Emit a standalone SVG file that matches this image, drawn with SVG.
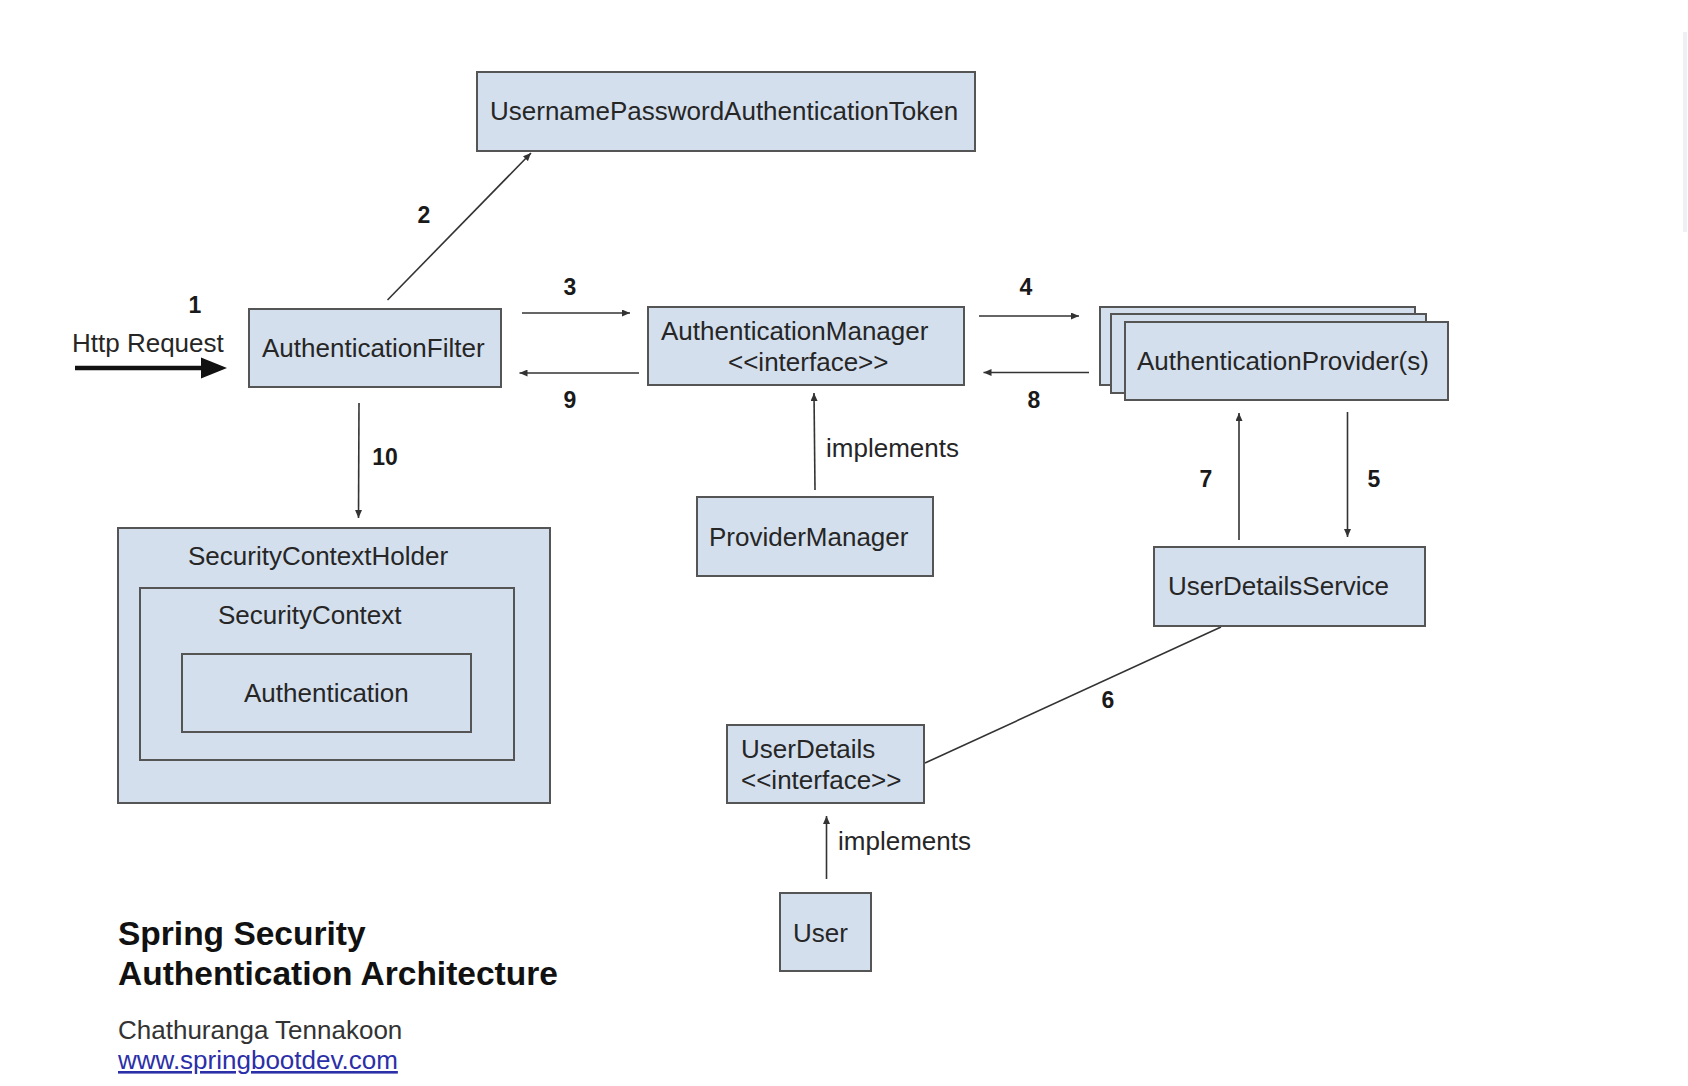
<svg xmlns="http://www.w3.org/2000/svg" width="1688" height="1086" viewBox="0 0 1688 1086">
  <defs>
    <style>
      .box { fill: #d4dfed; stroke: #555; stroke-width: 2; }
      .t { font-family: "Liberation Sans", Arial, sans-serif; font-size: 26px; fill: #262626; }
      .num { font-family: "Liberation Sans", Arial, sans-serif; font-size: 23px; font-weight: bold; fill: #1a1a1a; text-anchor: middle; }
      .ln { stroke: #333; stroke-width: 1.6; fill: none; }
      .arr { marker-end: url(#ah); }
    </style>
    <marker id="ah" markerUnits="userSpaceOnUse" markerWidth="9" markerHeight="7" refX="8" refY="3.5" orient="auto">
      <path d="M0,0 L8,3.5 L0,7 z" fill="#333"/>
    </marker>
  </defs>
  <rect width="1688" height="1086" fill="#ffffff"/>
  <rect x="1683" y="32" width="4" height="200" fill="#eef0f3"/>

  <g id="connectors">
    <line x1="75" y1="368" x2="203" y2="368" stroke="#111" stroke-width="4.5"/>
    <polygon points="201,357.5 227,368 201,378.5" fill="#111"/>
    <line class="ln arr" x1="387.5" y1="300" x2="531" y2="153"/>
    <line class="ln arr" x1="522" y1="313" x2="630" y2="313"/>
    <line class="ln arr" x1="639" y1="373" x2="519.5" y2="373"/>
    <line class="ln arr" x1="979" y1="316" x2="1079" y2="316"/>
    <line class="ln arr" x1="1089" y1="372.5" x2="983.5" y2="372.5"/>
    <line class="ln arr" x1="815" y1="490" x2="814" y2="393"/>
    <line class="ln arr" x1="359" y1="403" x2="358.5" y2="518"/>
    <line class="ln arr" x1="1239" y1="540" x2="1239" y2="413"/>
    <line class="ln arr" x1="1347.5" y1="412" x2="1347.5" y2="537"/>
    <line class="ln" x1="1221" y1="627" x2="925" y2="763"/>
    <line class="ln arr" x1="826.5" y1="879" x2="826.5" y2="816"/>
  </g>

  <g id="labels">
    <text class="t" x="72" y="352">Http Request</text>
    <text class="num" x="195" y="313">1</text>
    <text class="num" x="424" y="223">2</text>
    <text class="num" x="570" y="295">3</text>
    <text class="num" x="570" y="408">9</text>
    <text class="num" x="1026" y="295">4</text>
    <text class="num" x="1034" y="408">8</text>
    <text class="num" x="385" y="465">10</text>
    <text class="num" x="1206" y="487">7</text>
    <text class="num" x="1374" y="487">5</text>
    <text class="num" x="1108" y="708">6</text>
    <text class="t" x="826" y="457">implements</text>
    <text class="t" x="838" y="850">implements</text>
  </g>

  <g id="UsernamePasswordAuthenticationToken">
    <rect class="box" x="477" y="72" width="498" height="79"/>
    <text class="t" x="490" y="120">UsernamePasswordAuthenticationToken</text>
  </g>
  <g id="AuthenticationFilter">
    <rect class="box" x="249" y="309" width="252" height="78"/>
    <text class="t" x="262" y="357">AuthenticationFilter</text>
  </g>
  <g id="AuthenticationManager">
    <rect class="box" x="648" y="307" width="316" height="78"/>
    <text class="t" x="661" y="340">AuthenticationManager</text>
    <text class="t" x="728" y="371">&lt;&lt;interface&gt;&gt;</text>
  </g>
  <g id="AuthenticationProviders">
    <rect class="box" x="1100" y="307" width="315" height="78"/>
    <rect class="box" x="1111" y="314" width="315" height="79"/>
    <rect class="box" x="1125" y="322" width="323" height="78"/>
    <text class="t" x="1137" y="370">AuthenticationProvider(s)</text>
  </g>
  <g id="ProviderManager">
    <rect class="box" x="697" y="497" width="236" height="79"/>
    <text class="t" x="709" y="546">ProviderManager</text>
  </g>
  <g id="UserDetailsService">
    <rect class="box" x="1154" y="547" width="271" height="79"/>
    <text class="t" x="1168" y="595">UserDetailsService</text>
  </g>
  <g id="UserDetails">
    <rect class="box" x="727" y="725" width="197" height="78"/>
    <text class="t" x="741" y="758">UserDetails</text>
    <text class="t" x="741" y="789">&lt;&lt;interface&gt;&gt;</text>
  </g>
  <g id="User">
    <rect class="box" x="780" y="893" width="91" height="78"/>
    <text class="t" x="793" y="942">User</text>
  </g>
  <g id="SecurityContextHolder">
    <rect class="box" x="118" y="528" width="432" height="275"/>
    <text class="t" x="188" y="565">SecurityContextHolder</text>
    <g id="SecurityContext">
      <rect class="box" x="140" y="588" width="374" height="172"/>
      <text class="t" x="218" y="624">SecurityContext</text>
      <g id="Authentication">
        <rect class="box" x="182" y="654" width="289" height="78"/>
        <text class="t" x="244" y="702">Authentication</text>
      </g>
    </g>
  </g>

  <g id="title">
    <text x="118" y="945" font-family="Liberation Sans, Arial, sans-serif" font-size="33.5" font-weight="bold" fill="#111">Spring Security</text>
    <text x="118" y="985" font-family="Liberation Sans, Arial, sans-serif" font-size="33.5" font-weight="bold" fill="#111">Authentication Architecture</text>
    <text x="118" y="1039" font-family="Liberation Sans, Arial, sans-serif" font-size="26" fill="#333">Chathuranga Tennakoon</text>
    <text x="118" y="1069" font-family="Liberation Sans, Arial, sans-serif" font-size="26" fill="#2b2fa8" text-decoration="underline">www.springbootdev.com</text>
  </g>
</svg>
